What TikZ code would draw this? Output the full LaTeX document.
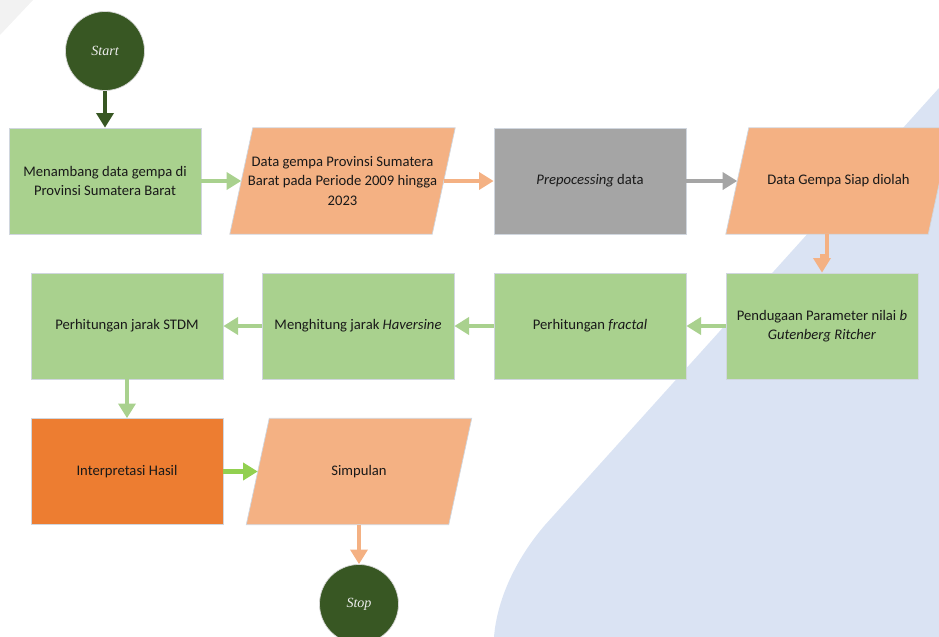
\documentclass[tikz,border=0pt]{standalone}
\usepackage{fontspec}
\setmainfont{Carlito}
\newfontfamily\timesfont{Liberation Serif}
\usetikzlibrary{arrows.meta,backgrounds}

\definecolor{boxgreen}{HTML}{A9D18E}
\definecolor{boxpeach}{HTML}{F4B183}
\definecolor{boxgray}{HTML}{A5A5A5}
\definecolor{boxorange}{HTML}{ED7D31}
\definecolor{darkgreen}{HTML}{385723}
\definecolor{brightgreen}{HTML}{92D050}
\definecolor{paleblue}{HTML}{DAE3F3}
\definecolor{palegray}{HTML}{F2F2F2}
\definecolor{edgegray}{HTML}{D0D6DE}

\begin{document}
\begin{tikzpicture}[x=0.03cm,y=-0.03cm,
    font=\fontsize{12.5}{16.5}\selectfont,
    process/.style={rectangle,draw=edgegray,line width=0.6pt,minimum width=5.76cm,
      minimum height=3.18cm,align=center,inner sep=2pt,text=black!90},
    dataio/.style={rectangle,minimum width=6.06cm,minimum height=3.18cm,align=center,
      inner sep=0pt,text=black!90},
    dataframe/.style={draw=edgegray,line width=0.6pt,fill=boxpeach},
    terminal/.style={circle,draw=black!15,line width=0.6pt,fill=darkgreen,minimum size=2.37cm,
      inner sep=0pt,text=white!93!black,font=\timesfont\itshape\fontsize{12}{14}\selectfont},
    flow/.style={line width=4.2pt,-{Triangle[length=12.5pt,width=14.5pt]}}]
  \useasboundingbox (0,0) rectangle (939,637);

  \begin{scope}
    \node[terminal] (start) at (105,51) {Start};
    \node[process,fill=boxgreen] (tambang) at (105,181) {Menambang data gempa di\\Provinsi Sumatera Barat};
    \node[dataio] (datagempa) at (342.5,181) {Data gempa Provinsi Sumatera\\Barat pada Periode 2009 hingga\\2023};
    \node[process,fill=boxgray] (prepro) at (590,181) {\textit{Prepocessing} data};
    \node[dataio] (siap) at (838.5,181) {Data Gempa Siap diolah};
    \node[process,fill=boxgreen] (duga) at (822,326) {Pendugaan Parameter nilai \textit{b}\\\textit{Gutenberg Ritcher}};
    \node[process,fill=boxgreen] (fractal) at (590,326) {Perhitungan \textit{fractal}};
    \node[process,fill=boxgreen] (haversine) at (358,326) {Menghitung jarak \textit{Haversine}};
    \node[process,fill=boxgreen] (stdm) at (127,326) {Perhitungan jarak STDM};
    \node[process,fill=boxorange] (hasil) at (127,471.5) {Interpretasi Hasil};
    \node[dataio] (simpulan) at (359,471.5) {Simpulan};
    \node[terminal] (stop) at (359,604) {Stop};
  \end{scope}

  % background shapes and parallelograms
  \begin{scope}[on background layer]
    \fill[palegray] (0,0) -- (33,0) -- (0,35) -- cycle;
    \fill[paleblue] (939,88) -- (545,525) .. controls (515,560) and (497,600) .. (494,637)
      -- (939,637) -- cycle;
    \foreach \n in {datagempa,siap,simpulan}
      \path[dataframe] ([xshift=-0.345cm]\n.south west) -- ([xshift=-0.345cm]\n.south east)
        -- ([xshift=0.345cm]\n.north east) -- ([xshift=0.345cm]\n.north west) -- cycle;
  \end{scope}

  \begin{scope}[every edge/.style={draw,flow}]
    \path (start) edge[darkgreen] (tambang);
    \path (tambang) edge[boxgreen] (datagempa);
    \path (datagempa) edge[boxpeach] (prepro);
    \path (prepro) edge[boxgray] (siap);
    \draw[flow,boxpeach] ([xshift=-0.345cm]siap.south) -- ++(0,22) -| (duga.north);
    \path (duga) edge[boxgreen] (fractal);
    \path (fractal) edge[boxgreen] (haversine);
    \path (haversine) edge[boxgreen] (stdm);
    \path (stdm) edge[boxgreen] (hasil);
    \path (hasil) edge[brightgreen] (simpulan);
    \path (stop.north |- simpulan.south) edge[boxpeach] (stop);
  \end{scope}
\end{tikzpicture}
\end{document}
